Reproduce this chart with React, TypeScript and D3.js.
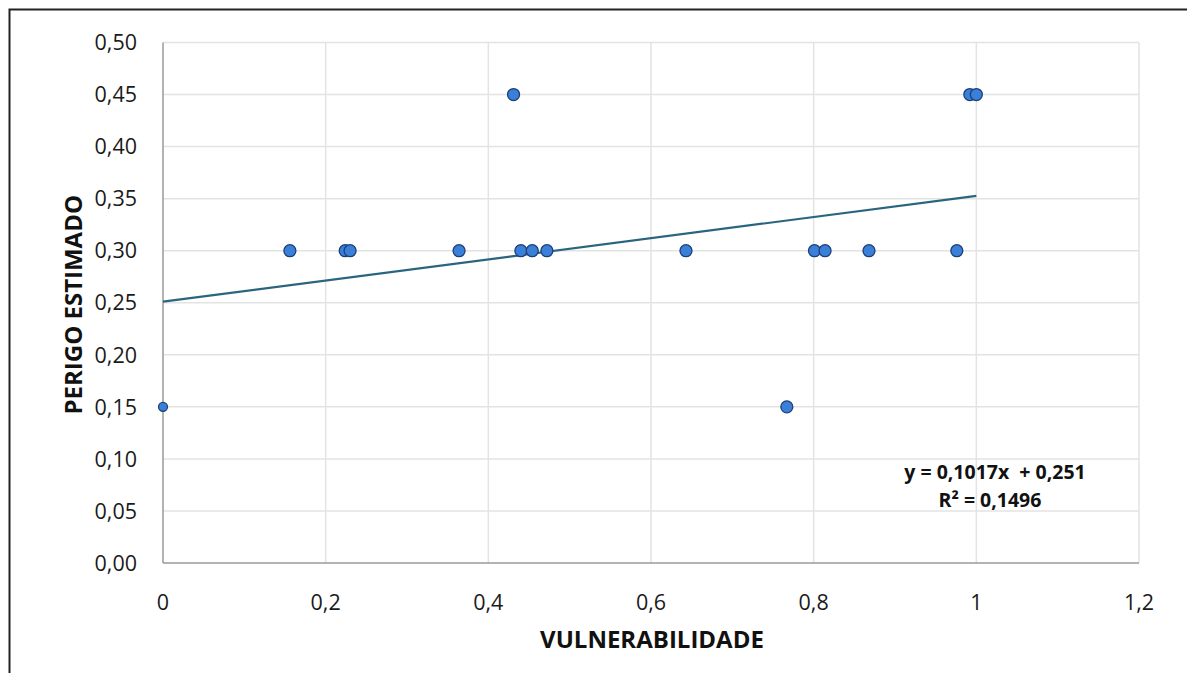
import * as d3 from "d3";
import { useEffect, useRef } from "react";

// vulnerability (x) vs estimated hazard (y)
const vulnerabilidade = [
  0, 0.156, 0.224, 0.23, 0.364, 0.431, 0.44, 0.454, 0.472, 0.643, 0.767, 0.801,
  0.814, 0.868, 0.976, 0.992, 1.0,
];
const perigo = [
  0.15, 0.3, 0.3, 0.3, 0.3, 0.45, 0.3, 0.3, 0.3, 0.3, 0.15, 0.3, 0.3, 0.3, 0.3,
  0.45, 0.45,
];
const xTicks = [0, 0.2, 0.4, 0.6, 0.8, 1, 1.2];
const yTicks = [0, 0.05, 0.1, 0.15, 0.2, 0.25, 0.3, 0.35, 0.4, 0.45, 0.5];
const slope = 0.1017;
const intercept = 0.251;
const equationLines = ["y = 0,1017x\u00a0\u00a0+ 0,251", "R² = 0,1496"];

const W = 1187;
const H = 673;
const FONT = "'Open Sans', 'Liberation Sans', sans-serif";

export default function App() {
  const svgRef = useRef<SVGSVGElement>(null);

  useEffect(() => {
    if (!svgRef.current) return;
    const svg = d3.select(svgRef.current);
    svg.selectAll("*").remove();

    const x = d3.scaleLinear().domain([0, 1.2]).range([163, 1139]);
    const y = d3.scaleLinear().domain([0, 0.5]).range([563, 42.5]);
    const fmt = (v: number) => v.toFixed(2).replace(".", ",");
    const fmtX = (v: number) => String(+v.toFixed(1)).replace(".", ",");

    svg.append("rect").attr("width", W).attr("height", H).attr("fill", "#fff");

    // outer frame (top and left edges only visible)
    svg
      .append("path")
      .attr("d", `M9.5,${H} V9.5 H${W}`)
      .attr("fill", "none")
      .attr("stroke", "#222")
      .attr("stroke-width", 2);

    // gridlines
    svg
      .append("g")
      .selectAll("line")
      .data(yTicks.slice(1))
      .enter()
      .append("line")
      .attr("x1", x(0))
      .attr("x2", x(1.2))
      .attr("y1", (d) => y(d))
      .attr("y2", (d) => y(d))
      .attr("stroke", "#e3e3e3")
      .attr("stroke-width", 1.5);

    svg
      .append("g")
      .selectAll("line")
      .data(xTicks.slice(1))
      .enter()
      .append("line")
      .attr("x1", (d) => x(d))
      .attr("x2", (d) => x(d))
      .attr("y1", y(0))
      .attr("y2", y(0.5))
      .attr("stroke", "#e3e3e3")
      .attr("stroke-width", 1.5);

    // axes lines
    svg
      .append("line")
      .attr("x1", x(0))
      .attr("x2", x(0))
      .attr("y1", y(0))
      .attr("y2", y(0.5))
      .attr("stroke", "#9a9a9a")
      .attr("stroke-width", 1.5);
    svg
      .append("line")
      .attr("x1", x(0))
      .attr("x2", x(1.2))
      .attr("y1", y(0))
      .attr("y2", y(0))
      .attr("stroke", "#9a9a9a")
      .attr("stroke-width", 1.5);

    // tick labels
    svg
      .append("g")
      .selectAll("text")
      .data(yTicks)
      .enter()
      .append("text")
      .attr("x", 137)
      .attr("y", (d) => y(d))
      .attr("dy", "0.36em")
      .attr("text-anchor", "end")
      .attr("font-family", FONT)
      .attr("font-size", 21.5)
      .attr("fill", "#1a1a1a")
      .text(fmt);

    svg
      .append("g")
      .selectAll("text")
      .data(xTicks)
      .enter()
      .append("text")
      .attr("x", (d) => x(d))
      .attr("y", 610)
      .attr("text-anchor", "middle")
      .attr("font-family", FONT)
      .attr("font-size", 21.5)
      .attr("fill", "#1a1a1a")
      .text(fmtX);

    // axis titles
    svg
      .append("text")
      .attr("x", 652)
      .attr("y", 648)
      .attr("text-anchor", "middle")
      .attr("font-family", FONT)
      .attr("font-weight", "bold")
      .attr("font-size", 24)
      .attr("fill", "#111")
      .text("VULNERABILIDADE");

    svg
      .append("text")
      .attr("transform", `translate(82,${y(0.25) + 2}) rotate(-90)`)
      .attr("text-anchor", "middle")
      .attr("font-family", FONT)
      .attr("font-weight", "bold")
      .attr("font-size", 24)
      .attr("fill", "#111")
      .text("PERIGO ESTIMADO");

    // trend line
    const line = d3
      .line<number>()
      .x((d) => x(d))
      .y((d) => y(slope * d + intercept));
    svg
      .append("path")
      .attr("d", line([0, 1]))
      .attr("fill", "none")
      .attr("stroke", "#2a6580")
      .attr("stroke-width", 2.2);

    // points
    svg
      .append("g")
      .selectAll("circle")
      .data(vulnerabilidade.map((v, i) => [v, perigo[i]]))
      .enter()
      .append("circle")
      .attr("cx", (d) => x(d[0]))
      .attr("cy", (d) => y(d[1]))
      .attr("r", (d) => (d[0] === 0 ? 4.5 : 6))
      .attr("fill", "#3a7fd8")
      .attr("stroke", "#1d3f78")
      .attr("stroke-width", 1.3);

    // equation
    svg
      .append("g")
      .selectAll("text")
      .data(equationLines)
      .enter()
      .append("text")
      .attr("x", (_, i) => (i === 0 ? 995 : 990))
      .attr("y", (_, i) => 479 + i * 28)
      .attr("text-anchor", "middle")
      .attr("font-family", FONT)
      .attr("font-weight", "bold")
      .attr("font-size", 19.5)
      .attr("fill", "#111")
      .text((d) => d);
  }, []);

  return (
    <svg
      ref={svgRef}
      width={W}
      height={H}
      style={{ position: "absolute", left: 0, top: 0, display: "block" }}
    />
  );
}
